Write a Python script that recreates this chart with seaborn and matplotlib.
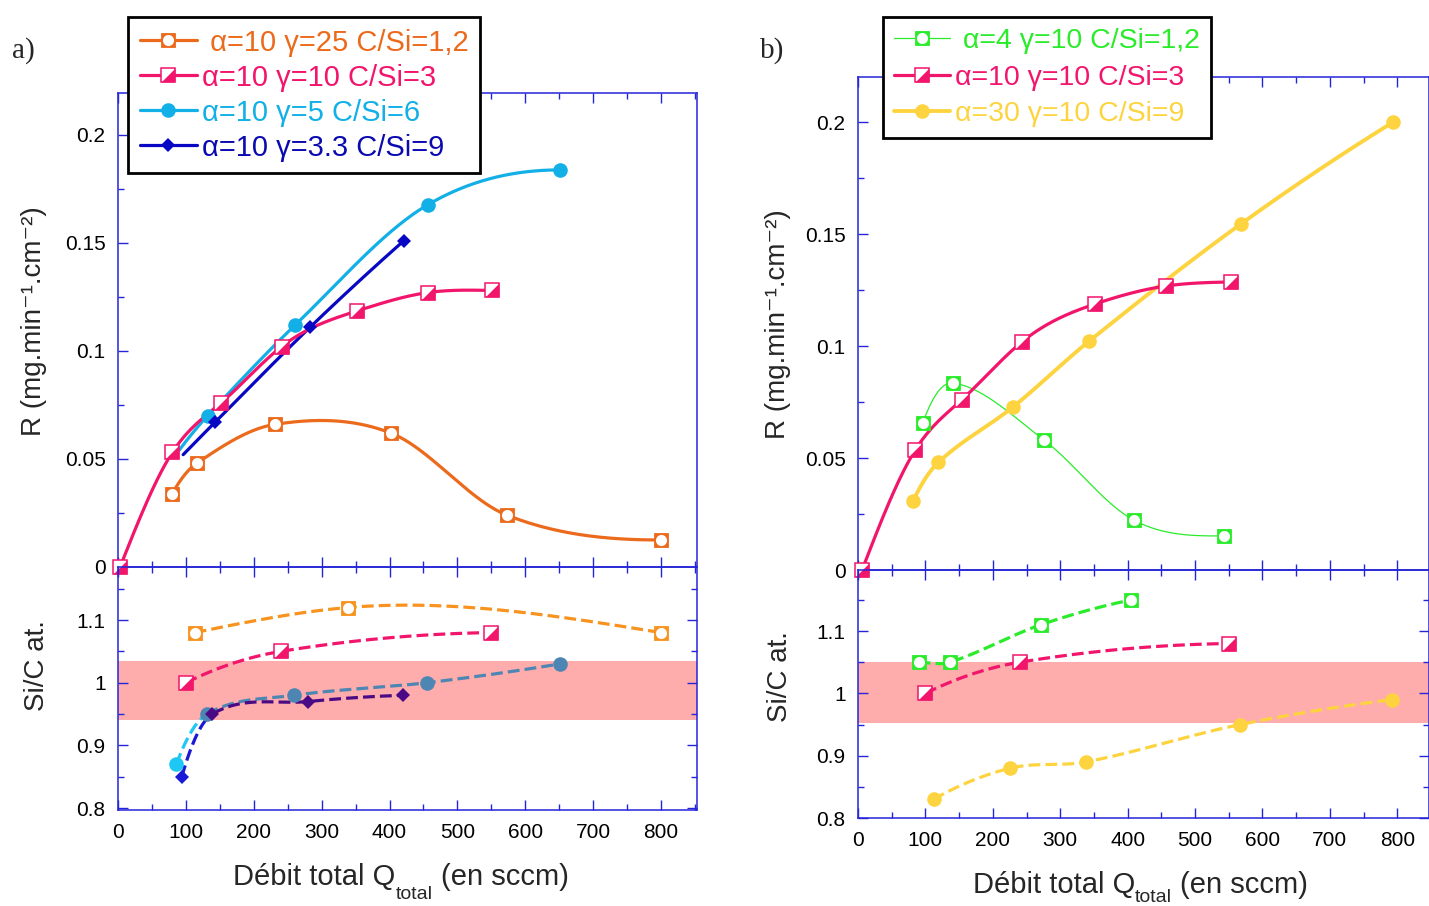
import numpy as np
import matplotlib
matplotlib.use("Agg")
import matplotlib.pyplot as plt
import seaborn as sns
from matplotlib.lines import Line2D
from matplotlib.ticker import MultipleLocator, FuncFormatter

# ── data: panel a) ────────────────────────────────────────────────────────────
a_or_q = [80, 116, 231, 402, 573, 800]
a_or_R = [0.034, 0.048, 0.066, 0.062, 0.024, 0.0125]
a_or_sq = [113, 339, 800]
a_or_sic = [1.08, 1.12, 1.08]

a_pk_q = [3, 80, 152, 241, 352, 456, 551]
a_pk_R = [0.0, 0.053, 0.076, 0.102, 0.1185, 0.127, 0.128]
a_pk_sq = [100, 240, 550]
a_pk_sic = [1.00, 1.05, 1.08]

a_cy_q = [90, 132, 261, 456, 651]
a_cy_R = [0.054, 0.070, 0.112, 0.1676, 0.1838]
a_cy_sq = [86, 131, 260, 455, 651]
a_cy_sic = [0.87, 0.95, 0.98, 1.00, 1.03]

a_nv_q = [96, 143, 283, 421]
a_nv_R = [0.052, 0.067, 0.111, 0.151]
a_nv_sq = [94, 139, 280, 420]
a_nv_sic = [0.85, 0.95, 0.97, 0.98]

# ── data: panel b) ────────────────────────────────────────────────────────────
b_gr_q = [96, 141, 276, 409, 543]
b_gr_R = [0.0656, 0.0835, 0.058, 0.0223, 0.0152]
b_gr_sq = [90, 136, 271, 405]
b_gr_sic = [1.05, 1.05, 1.11, 1.15]

b_pk_q = [6, 85, 154, 243, 352, 457, 553]
b_pk_R = [0.0, 0.0536, 0.076, 0.1018, 0.1188, 0.1268, 0.1286]
b_pk_sq = [100, 240, 550]
b_pk_sic = [1.00, 1.05, 1.08]

b_ye_q = [82, 119, 230, 343, 568, 794]
b_ye_R = [0.031, 0.048, 0.0728, 0.1022, 0.1545, 0.200]
b_ye_sq = [112, 226, 338, 567, 792]
b_ye_sic = [0.83, 0.88, 0.89, 0.95, 0.99]

a_labels = [" α=10 γ=25 C/Si=1,2", "α=10 γ=10 C/Si=3",
            "α=10 γ=5 C/Si=6", "α=10 γ=3.3 C/Si=9"]
b_labels = [" α=4 γ=10 C/Si=1,2", "α=10 γ=10 C/Si=3", "α=30 γ=10 C/Si=9"]

a_band = (0.94, 1.035)
b_band = (0.953, 1.051)

ORANGE, ORANGE_L = "#ec6a1c", "#f7931e"
PINK = "#f2156c"
CYAN, CYAN_L, STEEL = "#12b0e6", "#1ec8f5", "#4d86b3"
NAVY, BLUE_B, PURPLE = "#0808c4", "#1a1ad6", "#4b0a85"
GREEN = "#2aec2a"
YELLOW = "#fdd43f"
BAND = "#ffacac"
AXBLUE = "#2424d8"

W, H = 1429, 906
TRI = [(-1, -1), (1, -1), (1, 1), (-1, -1)]   # lower-right half of a square

sns.set_style("ticks")
plt.rcParams["font.family"] = ["Liberation Sans", "DejaVu Sans"]


def smooth(x, y, natural=False, n=300):
    """Smooth curve through the points: cubic Hermite with centred-difference
    tangents, or a natural cubic spline when natural=True."""
    x = np.asarray(x, float); y = np.asarray(y, float)
    k = len(x)
    h = np.diff(x)
    xs = np.linspace(x[0], x[-1], n)
    idx = np.clip(np.searchsorted(x, xs) - 1, 0, k - 2)
    if natural:
        A = np.zeros((k, k)); r = np.zeros(k)
        A[0, 0] = A[-1, -1] = 1
        for i in range(1, k - 1):
            A[i, i - 1], A[i, i], A[i, i + 1] = h[i - 1], 2 * (h[i - 1] + h[i]), h[i]
            r[i] = 3 * ((y[i + 1] - y[i]) / h[i] - (y[i] - y[i - 1]) / h[i - 1])
        c = np.linalg.solve(A, r)
        b = (y[1:] - y[:-1]) / h - h * (2 * c[:-1] + c[1:]) / 3
        d = (c[1:] - c[:-1]) / (3 * h)
        dx = xs - x[idx]
        return xs, y[idx] + b[idx] * dx + c[idx] * dx ** 2 + d[idx] * dx ** 3
    s = np.diff(y) / h
    m = np.empty(k)
    if k > 2:
        m[1:-1] = (y[2:] - y[:-2]) / (x[2:] - x[:-2])
        m[0], m[-1] = 2 * s[0] - m[1], 2 * s[-1] - m[-2]
        # keep end tangents on the same side as the end segment
        if m[0] * s[0] <= 0:
            m[0] = 0.0
        if m[-1] * s[-1] <= 0:
            m[-1] = 0.0
    else:
        m[:] = s[0]
    hh = h[idx]
    t = (xs - x[idx]) / hh
    ys = ((2 * t**3 - 3 * t**2 + 1) * y[idx] + (t**3 - 2 * t**2 + t) * hh * m[idx]
          + (-2 * t**3 + 3 * t**2) * y[idx + 1] + (t**3 - t**2) * hh * m[idx + 1])
    return xs, ys


def curve(ax, q, v, color, lw, ls="-", first_color=None, natural=False):
    xs, ys = smooth(q, v, natural)
    if first_color is None:
        sns.lineplot(x=xs, y=ys, ax=ax, color=color, lw=lw, ls=ls, zorder=2)
    else:
        cut = xs <= q[1]
        sns.lineplot(x=xs[cut], y=ys[cut], ax=ax, color=first_color, lw=lw, ls=ls, zorder=2)
        sns.lineplot(x=xs[~cut], y=ys[~cut], ax=ax, color=color, lw=lw, ls=ls, zorder=2)


def marker_kw(kind, color, ms):
    """List of Line2D style dicts stacked to build one marker."""
    if kind == "sqo":
        return [dict(marker="s", ms=ms, mfc=color, mec=color, mew=0.6),
                dict(marker="o", ms=ms * 0.8, mfc="white", mec="none")]
    if kind == "half":
        return [dict(marker="s", ms=ms, mfc="white", mec=color, mew=1.1),
                dict(marker=TRI, ms=ms, mfc=color, mec="none", mew=0)]
    if kind == "dot":
        return [dict(marker="o", ms=ms, mfc=color, mec=color, mew=0)]
    return [dict(marker="D", ms=ms, mfc=color, mec=color, mew=0)]


def markers(ax, q, v, kind, color, ms=10):
    for j, kw in enumerate(marker_kw(kind, color, ms)):
        ax.plot(q, v, ls="none", zorder=4 + 0.1 * j, clip_on=False, **kw)


def handle(kind, color, lw, ms=10):
    parts = marker_kw(kind, color, ms)
    hs = [Line2D([], [], color=color, lw=lw, **parts[0])]
    for kw in parts[1:]:
        hs.append(Line2D([], [], ls="none", **kw))
    return tuple(hs)


def style_axes(ax, xmax, ylim, major, minor, right, xlabels):
    ax.set_xlim(0, xmax)
    ax.set_ylim(*ylim)
    ax.xaxis.set_major_locator(MultipleLocator(100))
    ax.xaxis.set_minor_locator(MultipleLocator(50))
    ax.yaxis.set_major_locator(MultipleLocator(major))
    ax.yaxis.set_minor_locator(MultipleLocator(minor))
    ax.yaxis.set_major_formatter(FuncFormatter(lambda v, p: f"{v:g}"))
    ax.tick_params(which="both", direction="in", color=AXBLUE, width=1,
                   top=True, bottom=True, left=True, right=right,
                   labelsize=15, labelcolor="black", pad=9,
                   labelbottom=xlabels)
    ax.tick_params(which="major", length=7)
    ax.tick_params(which="minor", length=4)
    for s in ax.spines.values():
        s.set_color(AXBLUE); s.set_linewidth(1.1); s.set_visible(True)
    ax.set_xlabel(""); ax.set_ylabel("")
    ax.set_facecolor("none")


def px_axes(fig, x0, y0, x1, y1):
    return fig.add_axes([x0 / W, 1 - y1 / H, (x1 - x0) / W, (y1 - y0) / H])


fig = plt.figure(figsize=(W / 100, H / 100), dpi=100)

# ── panel a) ──────────────────────────────────────────────────────────────────
axA = px_axes(fig, 118, 93, 697, 567)
axa = px_axes(fig, 118, 567, 697, 810)

curve(axA, a_or_q, a_or_R, ORANGE, 2.3)
curve(axA, a_cy_q, a_cy_R, CYAN, 2.3)
curve(axA, a_nv_q, a_nv_R, NAVY, 2.3)
curve(axA, a_pk_q, a_pk_R, PINK, 2.3, natural=True)
markers(axA, a_or_q, a_or_R, "sqo", ORANGE)
markers(axA, a_cy_q[1:], a_cy_R[1:], "dot", CYAN, 10.5)
markers(axA, a_nv_q[1:], a_nv_R[1:], "D", NAVY, 7)
markers(axA, a_pk_q, a_pk_R, "half", PINK)
style_axes(axA, 853, (0, 0.2194), 0.05, 0.025, False, False)

axa.axhspan(*a_band, color=BAND, lw=0, zorder=0.5)
curve(axa, a_or_sq, a_or_sic, ORANGE_L, 2.3, "--", natural=True)
curve(axa, a_pk_sq, a_pk_sic, PINK, 2.3, "--")
curve(axa, a_cy_sq, a_cy_sic, STEEL, 2.3, "--", first_color=CYAN_L)
curve(axa, a_nv_sq, a_nv_sic, PURPLE, 2.3, "--", first_color=BLUE_B)
markers(axa, a_or_sq, a_or_sic, "sqo", ORANGE_L)
markers(axa, a_pk_sq, a_pk_sic, "half", PINK)
markers(axa, a_cy_sq[:1], a_cy_sic[:1], "dot", CYAN_L, 10.5)
markers(axa, a_cy_sq[1:], a_cy_sic[1:], "dot", STEEL, 10.5)
markers(axa, a_nv_sq[:1], a_nv_sic[:1], "D", BLUE_B, 7)
markers(axa, a_nv_sq[1:], a_nv_sic[1:], "D", PURPLE, 7)
style_axes(axa, 853, (0.797, 1.1846), 0.1, 0.05, True, True)

# ── panel b) ──────────────────────────────────────────────────────────────────
axB = px_axes(fig, 858, 77, 1429, 570)
axb = px_axes(fig, 858, 570, 1429, 818)

curve(axB, b_gr_q, b_gr_R, GREEN, 0.9)
curve(axB, b_ye_q, b_ye_R, YELLOW, 2.8)
curve(axB, b_pk_q, b_pk_R, PINK, 2.3, natural=True)
markers(axB, b_gr_q, b_gr_R, "sqo", GREEN)
markers(axB, b_ye_q, b_ye_R, "dot", YELLOW, 10.5)
markers(axB, b_pk_q, b_pk_R, "half", PINK)
style_axes(axB, 847, (0, 0.2201), 0.05, 0.025, False, False)

axb.axhspan(*b_band, color=BAND, lw=0, zorder=0.5)
curve(axb, b_gr_sq, b_gr_sic, GREEN, 2.3, "--")
curve(axb, b_pk_sq, b_pk_sic, PINK, 2.3, "--")
curve(axb, b_ye_sq, b_ye_sic, YELLOW, 2.3, "--")
markers(axb, b_gr_sq, b_gr_sic, "sqo", GREEN)
markers(axb, b_pk_sq, b_pk_sic, "half", PINK)
markers(axb, b_ye_sq, b_ye_sic, "dot", YELLOW, 10.5)
style_axes(axb, 847, (0.8, 1.198), 0.1, 0.05, True, True)
axb.set_yticks([0.8, 0.9, 1.0, 1.1])

# ── legends ───────────────────────────────────────────────────────────────────
a_handles = [handle("sqo", ORANGE, 2.3), handle("half", PINK, 2.3),
             handle("dot", CYAN, 2.3, 10.5), handle("D", NAVY, 2.3, 7)]
b_handles = [handle("sqo", GREEN, 0.9), handle("half", PINK, 2.3),
             handle("dot", YELLOW, 2.8, 10.5)]

for hs, labs, cols, (x0, y0), fs, lsp in [
        (a_handles, a_labels, [ORANGE, PINK, CYAN, "#0a0ab0"], (128, 17), 21, 0.24),
        (b_handles, b_labels, [GREEN, PINK, YELLOW], (883, 17), 20.5, 0.36)]:
    leg = fig.legend(hs, labs, loc="upper left", bbox_to_anchor=(x0 / W, 1 - y0 / H),
                     frameon=True, fancybox=False, edgecolor="black", framealpha=1,
                     fontsize=fs, labelcolor=cols, handlelength=1.95,
                     handletextpad=0.17, labelspacing=lsp, borderpad=0.4,
                     borderaxespad=0)
    leg.get_frame().set_linewidth(2)

# ── text ──────────────────────────────────────────────────────────────────────
fig.text(12 / W, 1 - 58 / H, "a)", family="Liberation Serif", fontsize=21)
fig.text(760 / W, 1 - 58 / H, "b)", family="Liberation Serif", fontsize=21)

ylab = "R (mg.min⁻¹.cm⁻²)"
fig.text(34 / W, 1 - 321 / H, ylab, rotation=90, ha="center", va="center", fontsize=20)
fig.text(778 / W, 1 - 324 / H, ylab, rotation=90, ha="center", va="center", fontsize=20)
fig.text(37 / W, 1 - 666 / H, "Si/C at.", rotation=90, ha="center", va="center", fontsize=20)
fig.text(780 / W, 1 - 677 / H, "Si/C at.", rotation=90, ha="center", va="center", fontsize=20)

for x0, base, xs, sub_base, xp in [(233, 885, 396, 899, 441), (973, 893, 1135, 902, 1180)]:
    fig.text(x0 / W, 1 - base / H, "Débit total Q", va="baseline", fontsize=21)
    fig.text(xs / W, 1 - sub_base / H, "total", va="baseline", fontsize=14)
    fig.text(xp / W, 1 - base / H, "(en sccm)", va="baseline", fontsize=21)

fig.savefig("out.png", dpi=100)
